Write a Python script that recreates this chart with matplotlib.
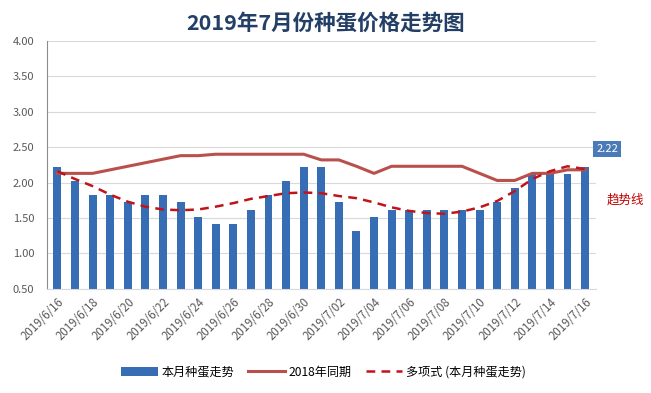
import matplotlib
matplotlib.use("Agg")
import matplotlib.pyplot as plt
import numpy as np

plt.rcParams['font.family'] = ['Noto Sans CJK SC', 'DejaVu Sans']

# daily dates 2019/6/16 - 2019/7/16
dates = ['6/16', '6/17', '6/18', '6/19', '6/20', '6/21', '6/22', '6/23', '6/24', '6/25',
         '6/26', '6/27', '6/28', '6/29', '6/30', '7/01', '7/02', '7/03', '7/04', '7/05',
         '7/06', '7/07', '7/08', '7/09', '7/10', '7/11', '7/12', '7/13', '7/14', '7/15', '7/16']
tick_labels = ['2019/' + d for d in dates]

# this month egg price
price_2019 = [2.22, 2.02, 1.82, 1.82, 1.72, 1.82, 1.82, 1.72, 1.52, 1.42,
              1.42, 1.62, 1.82, 2.02, 2.22, 2.22, 1.72, 1.32, 1.52, 1.62,
              1.62, 1.62, 1.62, 1.62, 1.62, 1.72, 1.92, 2.12, 2.12, 2.12, 2.22]
# same period 2018
price_2018 = [2.13, 2.13, 2.13, 2.18, 2.23, 2.28, 2.33, 2.38, 2.38, 2.40,
              2.40, 2.40, 2.40, 2.40, 2.40, 2.32, 2.32, 2.23, 2.13, 2.23,
              2.23, 2.23, 2.23, 2.23, 2.13, 2.03, 2.03, 2.13, 2.13, 2.18, 2.18]
# polynomial trendline
trend = [2.16, 2.05, 1.95, 1.83, 1.73, 1.66, 1.62, 1.61, 1.62, 1.66,
         1.71, 1.77, 1.81, 1.85, 1.86, 1.85, 1.81, 1.78, 1.72, 1.65,
         1.60, 1.57, 1.56, 1.59, 1.65, 1.74, 1.88, 2.05, 2.16, 2.23, 2.19]

x = np.arange(len(dates))

fig = plt.figure(figsize=(6.51, 3.93), dpi=100)
ax = fig.add_axes([0.072, 0.265, 0.843, 0.631])

bars = ax.bar(x, price_2019, width=0.45, bottom=0, color='#366db5', zorder=2,
              label='本月种蛋走势')
l1, = ax.plot(x, price_2018, color='#b9504c', lw=2.2, zorder=3, label='2018年同期')
l2, = ax.plot(x, trend, color='#c0141a', lw=1.8, ls=(0, (3.5, 2.5)), zorder=4,
              label='多项式 (本月种蛋走势)')

ax.set_ylim(0.5, 4.0)
ax.set_xlim(-0.6, len(dates) - 0.4)
ax.set_yticks(np.arange(0.5, 4.01, 0.5))
ax.set_yticklabels(['%.2f' % v for v in np.arange(0.5, 4.01, 0.5)], fontsize=8, color='#595959')
ax.set_xticks(x[::2])
ax.set_xticklabels(tick_labels[::2], rotation=45, ha='right', rotation_mode='anchor',
                   fontsize=8.3, color='#595959')
ax.tick_params(length=0, pad=5)
ax.tick_params(axis='y', pad=9)
ax.yaxis.grid(True, color='#d9d9d9', lw=0.8, zorder=0)
for s in ['top', 'right']:
    ax.spines[s].set_visible(False)
ax.spines['bottom'].set_color('#d9d9d9')
ax.spines['left'].set_color('#8c8c8c')
ax.spines['left'].set_linewidth(0.8)

fig.text(0.5, 0.94, '2019年7月份种蛋价格走势图', ha='center', va='center',
         fontsize=15.5, fontweight='bold', color='#243f66')

# end label
ax.annotate('2.22', xy=(x[-1], price_2019[-1]), xytext=(8, 13), textcoords='offset points',
            fontsize=8, color='white', va='center', ha='left',
            bbox=dict(boxstyle='square,pad=0.3', fc='#4a7ab8', ec='none'))
fig.text(0.96, 0.49, '趋势线', color='#c00000', fontsize=9, ha='center', va='center')

fig.legend(handles=[bars, l1, l2], loc='center', bbox_to_anchor=(0.497, 0.053), ncol=3,
           frameon=False, fontsize=8.7, handlelength=3.0, columnspacing=1.2, handletextpad=0.3)

fig.savefig('out.png', dpi=100)
